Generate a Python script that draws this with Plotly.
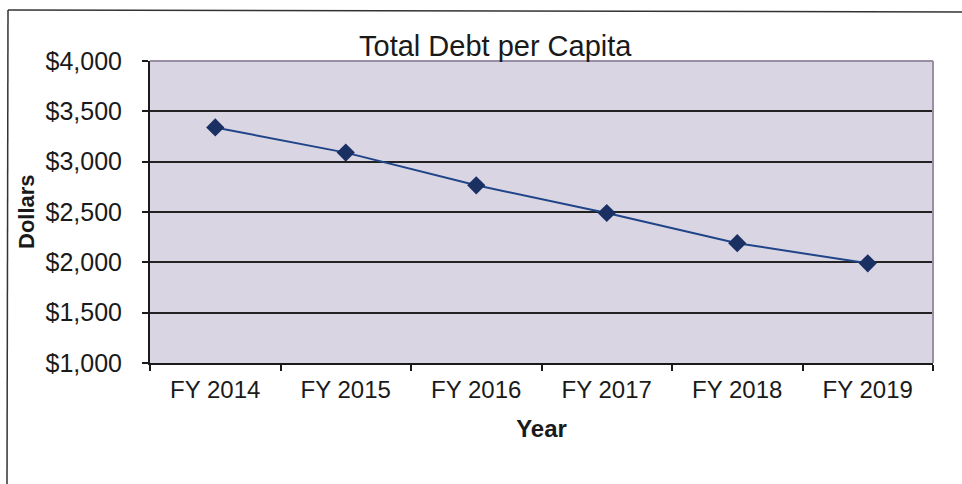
import plotly.graph_objects as go

# Total debt per capita by fiscal year
years = ["FY 2014", "FY 2015", "FY 2016", "FY 2017", "FY 2018", "FY 2019"]
debt_per_capita = [3340, 3090, 2765, 2490, 2190, 1990]

y_ticks = [1000, 1500, 2000, 2500, 3000, 3500, 4000]
y_tick_labels = ["$1,000", "$1,500", "$2,000", "$2,500", "$3,000", "$3,500", "$4,000"]

W, H = 962, 484
L, R, T, B = 150, 29, 61, 121
plot_w = W - L - R
plot_h = H - T - B


def px_x(x):
    return (x - L) / plot_w


def px_y(y):
    return (H - B - y) / plot_h


font_family = "Liberation Sans, Arial, sans-serif"

fig = go.Figure()
fig.add_trace(go.Scatter(
    x=years,
    y=debt_per_capita,
    mode="lines+markers",
    line=dict(color="#1f4488", width=2),
    marker=dict(symbol="diamond", size=14, color="#1a2f62",
                line=dict(color="#1a2f62", width=0)),
    showlegend=False,
    cliponaxis=False,
))

fig.update_layout(
    width=W, height=H,
    margin=dict(l=L, r=R, t=T, b=B, pad=0),
    paper_bgcolor="white",
    plot_bgcolor="#d9d5e3",
    font=dict(family=font_family, color="#1a1a1a"),
    xaxis=dict(
        type="category",
        range=[-0.5, 5.5],
        tickson="boundaries",
        ticks="outside", ticklen=6, tickwidth=2, tickcolor="#1a1a1a",
        showline=True, linecolor="#1a1a1a", linewidth=2,
        showgrid=False, zeroline=False,
        tickfont=dict(size=24, color="#1a1a1a"),
        ticklabelstandoff=4,
        title=dict(text="<b>Year</b>", font=dict(size=24, color="#1a1a1a"), standoff=18),
    ),
    yaxis=dict(
        range=[1000, 4000],
        tickvals=y_ticks, ticktext=y_tick_labels,
        ticks="outside", ticklen=6, tickwidth=2, tickcolor="#1a1a1a",
        showline=True, linecolor="#1a1a1a", linewidth=2,
        showgrid=True, gridcolor="#222222", gridwidth=2,
        zeroline=False,
        tickfont=dict(size=25, color="#1a1a1a"),
        ticklabelstandoff=15,
        title=None,
    ),
)

# Vertical axis label
fig.add_annotation(
    text="<b>Dollars</b>", textangle=-90,
    xref="paper", yref="paper", x=px_x(26), y=px_y(211),
    xanchor="center", yanchor="middle", showarrow=False,
    font=dict(size=22, family=font_family, color="#1a1a1a"),
)

# Chart title
fig.add_annotation(
    text="Total Debt per Capita",
    xref="paper", yref="paper", x=px_x(495), y=px_y(46),
    xanchor="center", yanchor="middle", showarrow=False,
    font=dict(size=29, family=font_family, color="#1a1a1a"),
)

# Plot-area border on the top and right edges
fig.add_shape(type="line", xref="paper", yref="paper", x0=0, x1=1, y0=1, y1=1,
              line=dict(color="#9a8ea4", width=2))
fig.add_shape(type="line", xref="paper", yref="paper", x0=1, x1=1, y0=0, y1=1,
              line=dict(color="#9a8ea4", width=2))

# Outer chart frame (top and left edges)
fig.add_shape(type="line", xref="paper", yref="paper",
              x0=px_x(8), x1=px_x(962), y0=px_y(10), y1=px_y(12),
              line=dict(color="#333333", width=1.5))
fig.add_shape(type="line", xref="paper", yref="paper",
              x0=px_x(8), x1=px_x(7), y0=px_y(10), y1=px_y(484),
              line=dict(color="#333333", width=1.5))

fig.write_html("out.html")
